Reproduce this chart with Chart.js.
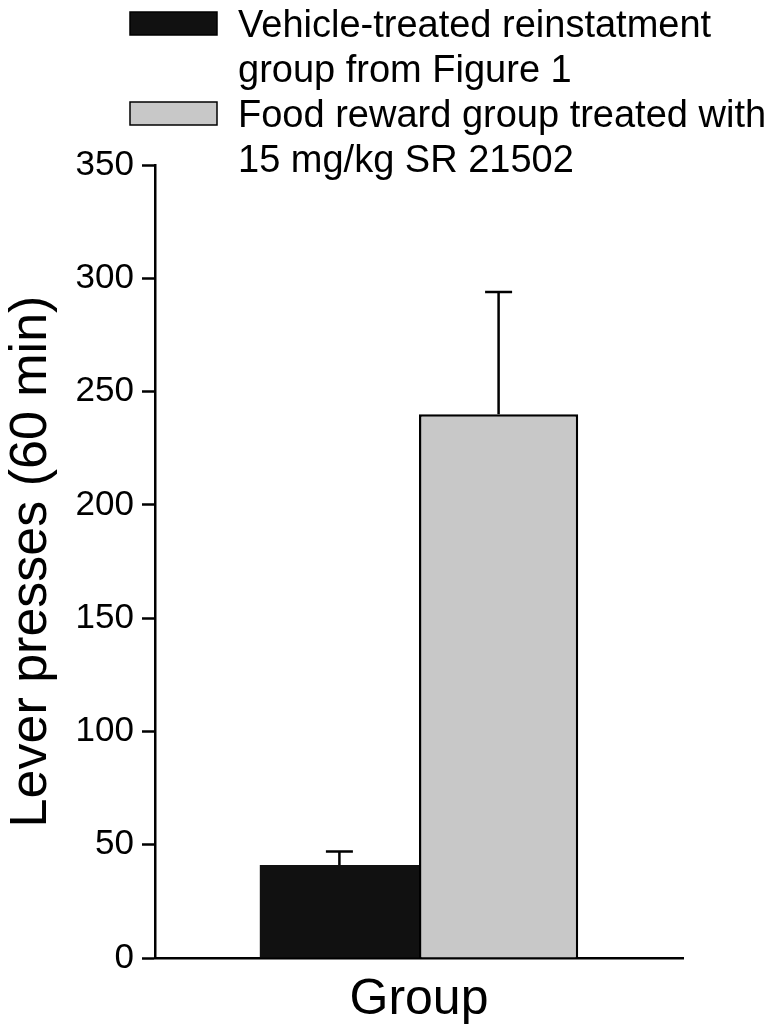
<!DOCTYPE html>
<html>
<head>
<meta charset="utf-8">
<script src="https://cdn.jsdelivr.net/npm/chart.js@4"></script>
<style>
  html, body { margin: 0; padding: 0; background: #fff; }
  #wrap { width: 768px; height: 1032px; }
</style>
</head>
<body>
<div id="wrap"><canvas id="barChart" width="768" height="1032"></canvas></div>
<script>
// data
const categories = ["Group"];
const seriesNames = ["Vehicle-treated reinstatment group from Figure 1", "Food reward group treated with 15 mg/kg SR 21502"];
const legendLines = [
    ["Vehicle-treated reinstatment", "group from Figure 1"],
    ["Food reward group treated with", "15 mg/kg SR 21502"]
];
const vehicleMean = [41];
const vehicleErr = [6];
const foodMean = [240];
const foodErr = [54];
const yTicks = [0, 50, 100, 150, 200, 250, 300, 350];

const FONT = "'Liberation Sans', Arial, sans-serif";

// error bars (upper only) drawn from the yErr arrays
const errorBars = {
    id: "errorBars",
    afterDatasetsDraw(chart) {
        const ctx = chart.ctx;
        const yScale = chart.scales.y;
        ctx.save();
        ctx.strokeStyle = "#000";
        ctx.lineWidth = 2.5;
        chart.data.datasets.forEach((ds, i) => {
            const meta = chart.getDatasetMeta(i);
            meta.data.forEach((bar, j) => {
                const top = yScale.getPixelForValue(ds.data[j] + ds.yErr[j]);
                const base = yScale.getPixelForValue(ds.data[j]);
                ctx.beginPath();
                ctx.moveTo(bar.x, base);
                ctx.lineTo(bar.x, top);
                ctx.moveTo(bar.x - 13.5, top);
                ctx.lineTo(bar.x + 13.5, top);
                ctx.stroke();
            });
        });
        ctx.restore();
    }
};

// legend with wrapped lines, drawn at the top
const wrappedLegend = {
    id: "wrappedLegend",
    afterDraw(chart) {
        const ctx = chart.ctx;
        ctx.save();
        ctx.font = "38px " + FONT;
        ctx.textBaseline = "alphabetic";
        chart.data.datasets.forEach((ds, i) => {
            const y0 = 12 + i * 90;
            ctx.fillStyle = ds.backgroundColor;
            ctx.fillRect(130, y0, 87, 23);
            ctx.strokeStyle = "#000";
            ctx.lineWidth = 1.5;
            ctx.strokeRect(130, y0, 87, 23);
            ctx.fillStyle = "#000";
            legendLines[i].forEach((line, k) => {
                ctx.fillText(line, 238, y0 + 25 + k * 45);
            });
        });
        ctx.restore();
    }
};

new Chart(document.getElementById("barChart"), {
    type: "bar",
    data: {
        labels: categories,
        datasets: [{
            label: seriesNames[0],
            data: vehicleMean,
            yErr: vehicleErr,
            backgroundColor: "#111111",
            borderColor: "#000",
            borderWidth: 0
        }, {
            label: seriesNames[1],
            data: foodMean,
            yErr: foodErr,
            backgroundColor: "#c8c8c8",
            borderColor: "#000",
            borderWidth: 2.5,
            borderSkipped: "bottom"
        }]
    },
    options: {
        responsive: false,
        animation: false,
        devicePixelRatio: 1,
        layout: { padding: { top: 165, right: 85, left: 0, bottom: 0 } },
        categoryPercentage: 0.603,
        barPercentage: 1.0,
        plugins: {
            legend: { display: false },
            tooltip: { enabled: false }
        },
        scales: {
            x: {
                grid: { display: false },
                border: { display: true, color: "#000", width: 2.5 },
                ticks: { display: false },
                title: {
                    display: true,
                    text: categories[0],
                    color: "#000",
                    font: { family: FONT, size: 50 },
                    padding: { top: 10, bottom: 2 }
                },
                afterFit(scale) { scale.height = 74; }
            },
            y: {
                min: 0,
                max: 350,
                afterBuildTicks(scale) { scale.ticks = yTicks.map(v => ({ value: v })); },
                grid: {
                    drawOnChartArea: false,
                    drawTicks: true,
                    tickLength: 13,
                    tickWidth: 2.5,
                    tickColor: "#000"
                },
                border: { display: true, color: "#000", width: 2.5 },
                ticks: {
                    color: "#000",
                    font: { family: FONT, size: 35 },
                    padding: 8
                },
                title: {
                    display: true,
                    text: "Lever presses (60 min)",
                    color: "#000",
                    font: { family: FONT, size: 52 },
                    padding: 0
                },
                afterFit(scale) { scale.width = 155; }
            }
        }
    },
    plugins: [errorBars, wrappedLegend]
});
</script>
</body>
</html>
